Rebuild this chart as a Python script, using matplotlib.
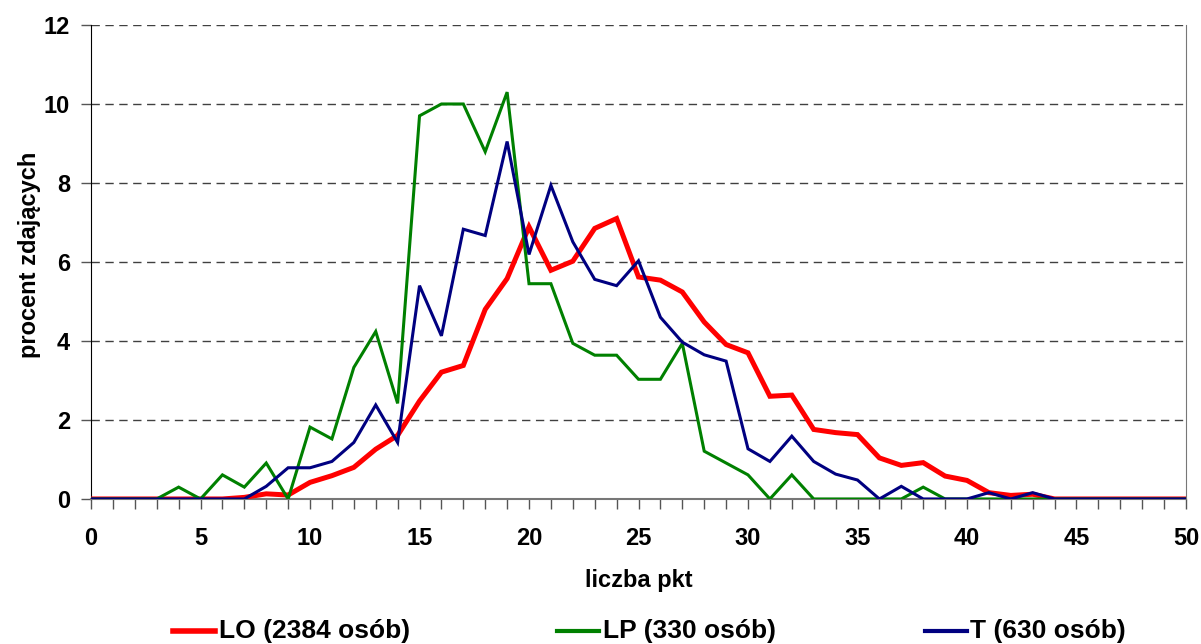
import numpy as np
import matplotlib.pyplot as plt
from matplotlib.ticker import MultipleLocator
from matplotlib.lines import Line2D

plt.rcParams['font.family'] = ['Liberation Sans', 'DejaVu Sans']
plt.rcParams['font.weight'] = 'bold'

# points 0..50
pkt = np.arange(0, 51)

lo = [0, 0, 0, 0, 0, 0, 0, 0.04, 0.13, 0.1, 0.42, 0.59, 0.8, 1.26, 1.61,
      2.48, 3.21, 3.38, 4.8, 5.58, 6.89, 5.79, 6.02, 6.85, 7.1, 5.62, 5.54,
      5.24, 4.48, 3.91, 3.7, 2.6, 2.63, 1.76, 1.68, 1.63, 1.04, 0.85, 0.92,
      0.58, 0.47, 0.16, 0.09, 0.12, 0, 0, 0, 0, 0, 0, 0]
lp = [0, 0, 0, 0, 0.3, 0, 0.61, 0.3, 0.91, 0, 1.82, 1.52, 3.33, 4.24, 2.42,
      9.7, 10.0, 10.0, 8.79, 10.3, 5.45, 5.45, 3.94, 3.64, 3.64, 3.03, 3.03,
      3.94, 1.21, 0.91, 0.61, 0, 0.61, 0, 0, 0, 0, 0, 0.3, 0, 0, 0, 0, 0,
      0, 0, 0, 0, 0, 0, 0]
t = [0, 0, 0, 0, 0, 0, 0, 0, 0.32, 0.79, 0.79, 0.95, 1.43, 2.38, 1.43,
     5.4, 4.13, 6.83, 6.67, 9.05, 6.19, 7.94, 6.51, 5.56, 5.4, 6.03, 4.6,
     3.97, 3.65, 3.49, 1.27, 0.95, 1.59, 0.95, 0.63, 0.48, 0, 0.32, 0, 0,
     0, 0.16, 0, 0.16, 0, 0, 0, 0, 0, 0, 0]

labels = ['LO (2384 osób)', 'LP (330 osób)', 'T (630 osób)']
colors = ['#ff0000', '#008000', '#000080']
widths = [3.6, 2.2, 2.2]

fig = plt.figure(figsize=(12.01, 6.44), dpi=100)
ax = fig.add_axes([0.0758, 0.2252, 0.9117, 0.736])

for y, c, w in zip([lo, lp, t], colors, widths):
    ax.plot(pkt, y, color=c, lw=w, solid_joinstyle='miter', zorder=3)

ax.set_xlim(0, 50)
ax.set_ylim(0, 12)
ax.xaxis.set_major_locator(MultipleLocator(5))
ax.xaxis.set_minor_locator(MultipleLocator(1))
ax.yaxis.set_major_locator(MultipleLocator(2))
ax.tick_params(axis='both', which='both', direction='out', length=7,
               width=1, color='#555555', labelsize=17, pad=8)
ax.tick_params(axis='x', pad=13)

for tl in ax.get_xticklabels() + ax.get_yticklabels():
    tl.set_fontweight('bold')

ax.grid(axis='y', linestyle=(0, (6, 4)), color='#404040', lw=1)
ax.spines['top'].set_visible(False)
ax.spines['left'].set_color('black')
ax.spines['bottom'].set_color('#777777')
ax.spines['right'].set_color('#777777')
ax.spines['bottom'].set_linewidth(1.5)

ax.set_xlabel('liczba pkt', fontsize=17, fontweight='bold', labelpad=14)
fig.text(30 / 1201, 1 - 255 / 644, 'procent zdających', rotation=90,
         fontsize=17, fontweight='bold', ha='center', va='center')

# legend along the bottom edge
xs = [0.144, 0.464, 0.770]
for x0, lab, c in zip(xs, labels, colors):
    fig.add_artist(Line2D([x0, x0 + 0.035], [0.02, 0.02], color=c,
                          lw=4 if c == '#ff0000' else 3,
                          transform=fig.transFigure))
    fig.text(x0 + 0.038, 0.02, lab, fontsize=19, fontweight='bold',
             va='center', ha='left')

fig.savefig('out.png', dpi=100)
